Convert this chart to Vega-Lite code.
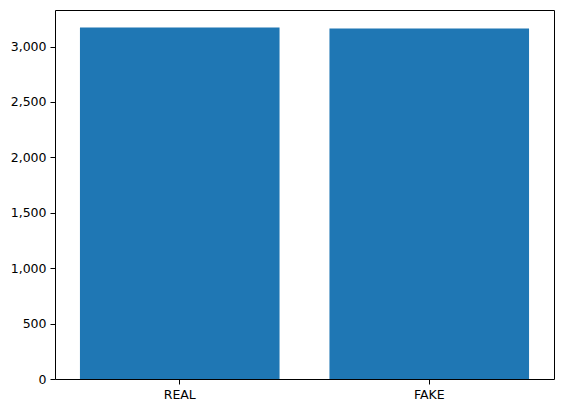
{
  "$schema": "https://vega.github.io/schema/vega-lite/v6.json",
  "width": 499,
  "height": 369,
  "autosize": {"type": "none"},
  "padding": {"left": 55, "top": 10, "right": 7, "bottom": 34},
  "background": "white",
  "config": {
    "view": {"stroke": "black", "strokeWidth": 1},
    "axis": {
      "labelFont": "DejaVu Sans",
      "labelFontSize": 12.5,
      "labelColor": "black",
      "tickColor": "black",
      "tickSize": 5,
      "domain": false,
      "grid": false,
      "labelPadding": 4
    }
  },
  "data": {
    "values": [
      {"label": "REAL", "count": 3171},
      {"label": "FAKE", "count": 3164}
    ]
  },
  "mark": {"type": "bar", "color": "#1f77b4"},
  "encoding": {
    "x": {
      "field": "label",
      "type": "nominal",
      "sort": null,
      "title": null,
      "scale": {"paddingInner": 0.2, "paddingOuter": 0.1},
      "axis": {"labelAngle": 0}
    },
    "y": {
      "field": "count",
      "type": "quantitative",
      "title": null,
      "scale": {"domain": [0, 3330], "nice": false},
      "axis": {"values": [0, 500, 1000, 1500, 2000, 2500, 3000]}
    }
  }
}
